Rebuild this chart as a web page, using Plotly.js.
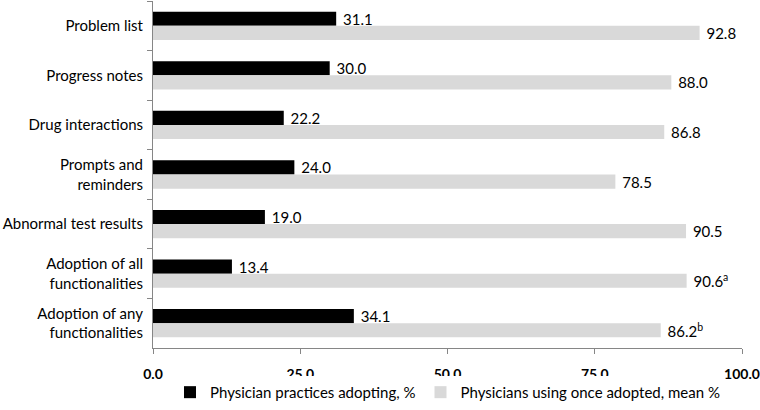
<!DOCTYPE html>
<html>
<head>
<meta charset="utf-8">
<script src="https://cdn.plot.ly/plotly-3.0.1.min.js"></script>
<style>html,body{margin:0;padding:0;background:#fff;}#chart{width:760px;height:410px;}</style>
</head>
<body>
<div id="chart"></div>
<script>
var categories = ["Problem list", "Progress notes", "Drug interactions", "Prompts and<br>reminders", "Abnormal test results", "Adoption of all<br>functionalities", "Adoption of any<br>functionalities"];
var practicesAdopting = [31.1, 30.0, 22.2, 24.0, 19.0, 13.4, 34.1];
var physiciansUsing = [92.8, 88.0, 86.8, 78.5, 90.5, 90.6, 86.2];
var usingNotes = ["", "", "", "", "", "a", "b"];
var seriesNames = ["Physician practices adopting, %", "Physicians using once adopted, mean %"];
var xTickVals = [0, 25, 50, 75, 100];

function labels(vals, notes) {
  return vals.map(function (v, i) {
    var n = notes && notes[i] ? "<sup>" + notes[i] + "</sup>" : "";
    return "\u00a0" + v.toFixed(1) + n;
  });
}

var fontFam = "Lato, 'Open Sans', sans-serif";
var labelFont = {family: fontFam, size: 15, color: "#000"};

var traces = [
  {
    type: "bar", orientation: "h", name: seriesNames[0],
    y: categories, x: practicesAdopting,
    text: labels(practicesAdopting), textposition: "outside", constraintext: "none",
    textfont: labelFont, outsidetextfont: labelFont,
    marker: {color: "#000000"}, cliponaxis: false, hoverinfo: "none"
  },
  {
    type: "bar", orientation: "h", name: seriesNames[1],
    y: categories, x: physiciansUsing,
    text: labels(physiciansUsing, usingNotes), textposition: "outside", constraintext: "none",
    textfont: labelFont, outsidetextfont: labelFont,
    marker: {color: "#d9d9d9"}, cliponaxis: false, hoverinfo: "none"
  }
];

var layout = {
  width: 760, height: 410,
  margin: {l: 153, r: 18, t: 1, b: 55},
  paper_bgcolor: "#fff", plot_bgcolor: "#fff",
  font: {family: fontFam, size: 14, color: "#000"},
  barmode: "group", bargap: 0.43, bargroupgap: 0,
  showlegend: true,
  legend: {orientation: "h", x: 0.5, xanchor: "center", y: -0.128, yanchor: "middle",
           font: {family: fontFam, size: 15, color: "#000"}, itemwidth: 30, traceorder: "normal"},
  xaxis: {
    range: [0, 100], tickvals: xTickVals, ticktext: xTickVals.map(function (v) { return v.toFixed(1); }),
    showgrid: false, zeroline: false, showline: true, linecolor: "#868686", linewidth: 1,
    ticks: "outside", ticklen: 5, tickcolor: "#868686", ticklabelstandoff: 8,
    tickfont: {family: fontFam, size: 14, color: "#000", weight: "bold"}, fixedrange: true
  },
  yaxis: {
    autorange: "reversed", type: "category",
    showgrid: false, zeroline: false, showline: true, linecolor: "#868686", linewidth: 1,
    ticks: "outside", ticklen: 5, tickcolor: "#868686", tickson: "boundaries", ticklabelstandoff: 6,
    tickfont: {family: fontFam, size: 15, color: "#000"}, fixedrange: true
  }
};

Plotly.newPlot("chart", traces, layout, {displayModeBar: false, staticPlot: true});
</script>
</body>
</html>
